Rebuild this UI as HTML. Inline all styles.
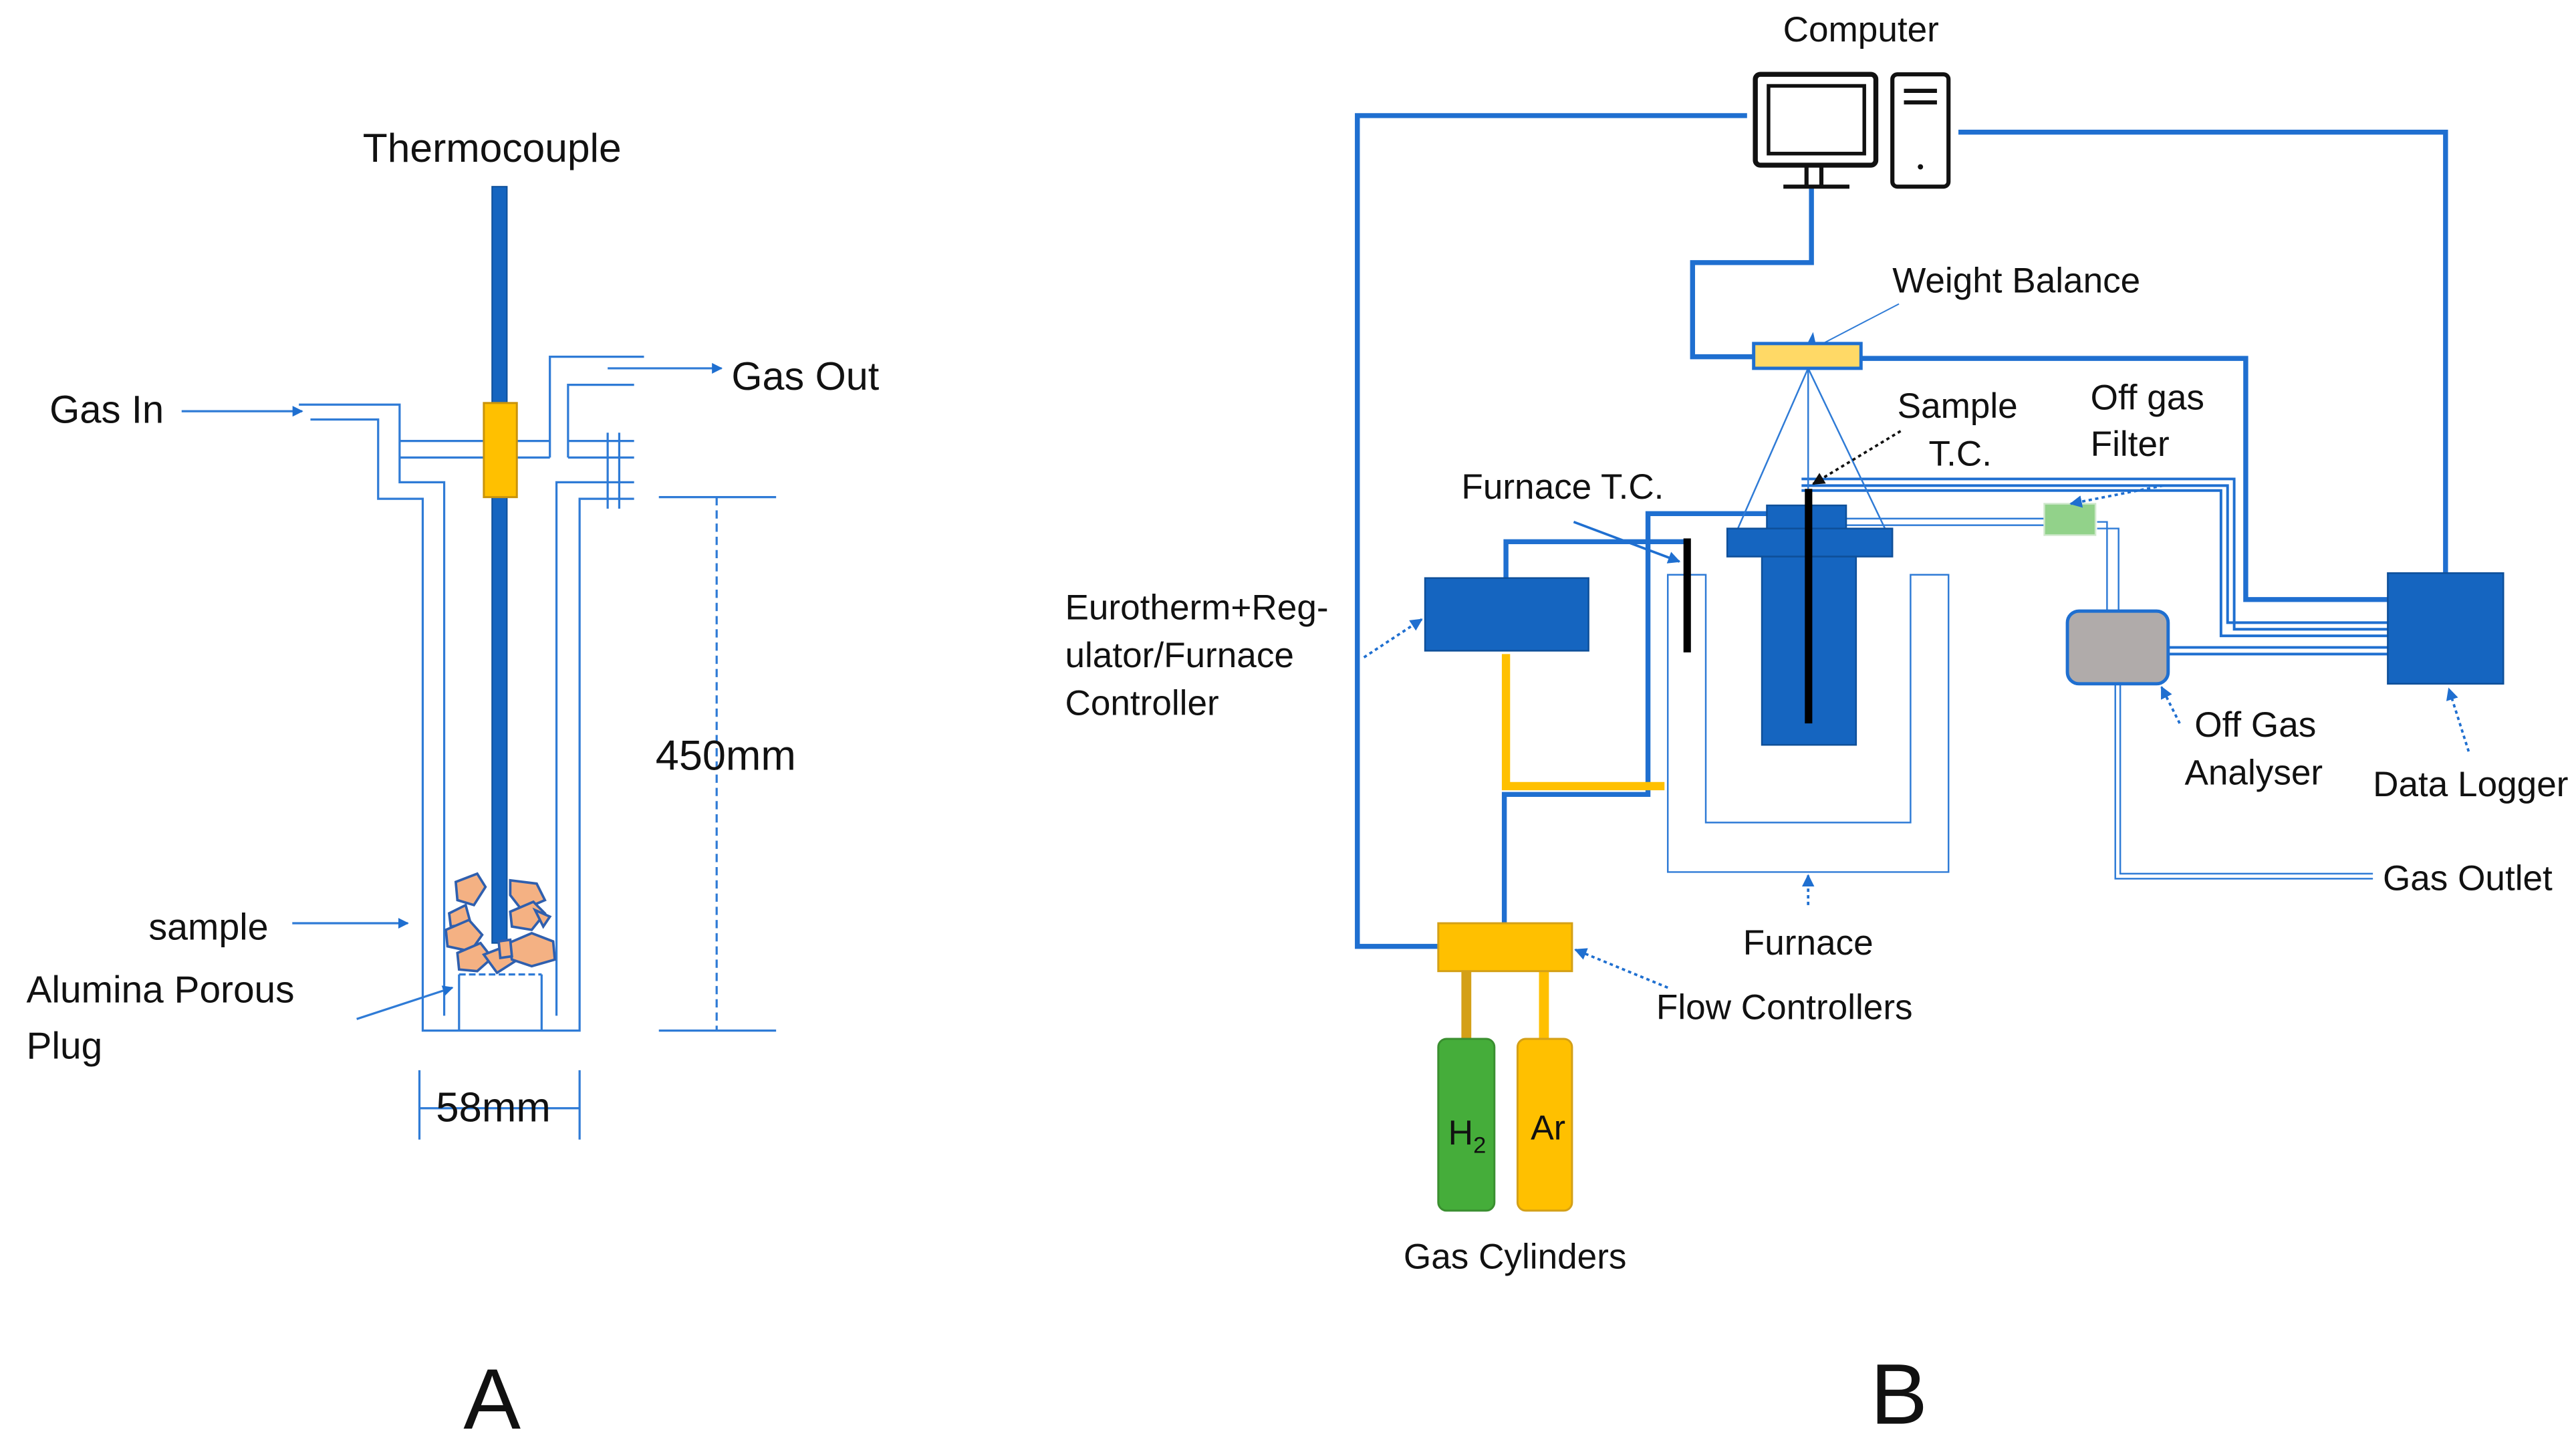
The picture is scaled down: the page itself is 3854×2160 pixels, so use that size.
<!DOCTYPE html>
<html><head><meta charset="utf-8"><style>
html,body{margin:0;padding:0;background:#fff;}
svg{display:block;}
text{font-family:"Liberation Sans",sans-serif;fill:#111;}
.c{font-family:"Liberation Sans",sans-serif;}
</style></head><body>
<svg width="3854" height="2160" viewBox="0 0 1560 874.3" preserveAspectRatio="none" xmlns="http://www.w3.org/2000/svg">
<defs>
<marker id="ah" viewBox="0 0 10 10" refX="9" refY="5" markerWidth="5" markerHeight="5" orient="auto"><path d="M0,0 L10,5 L0,10 z" fill="#1f6fd0"/></marker>
<marker id="ahk" viewBox="0 0 10 10" refX="9" refY="5" markerWidth="5" markerHeight="5" orient="auto"><path d="M0,0 L10,5 L0,10 z" fill="#111"/></marker>
</defs>
<rect width="1560" height="874.3" fill="#fff"/>

<!-- ===== Panel A ===== -->
<g fill="none" stroke="#2f7bd6" stroke-width="1.3">
<path d="M181,245 H242 V292 H269 V615"/>
<path d="M188,254 H229 V302 H256 V624 H351 V302 H384"/>
<path d="M337,615 V292 H384"/>
<path d="M242,267 H333 M242,277 H333 M344,267 H384 M344,277 H384"/>
<path d="M390,216 H333 V277"/>
<path d="M384,233 H344 V277"/>
<path d="M368,262 V308 M375,262 V308"/>
<path d="M399,301 H470 M399,624 H470"/>
<path d="M434,301 V624" stroke-dasharray="5,3"/>
<path d="M278,624 V590 M328,624 V590"/>
<path d="M278,590 H328" stroke-dasharray="4,2"/>
<path d="M254,648 V690 M351,648 V690 M254,671 H351"/>
<path d="M110,249 H183" marker-end="url(#ah)"/>
<path d="M368,223 H437" marker-end="url(#ah)"/>
<path d="M177,559 H247" marker-end="url(#ah)"/>
<path d="M216,617 L274,598" marker-end="url(#ah)"/>
</g>
<rect x="298" y="113" width="9" height="458" fill="#1565c0" stroke="#0e4f99" stroke-width="0.8"/>
<rect x="293" y="244" width="20" height="57" fill="#ffc000" stroke="#c9930a" stroke-width="1.2"/>
<g fill="#f4b183" stroke="#2f5fae" stroke-width="1.5">
<path d="M276,534 L289,529 L294,537 L287,548 L277,545 Z"/>
<path d="M272,553 L282,548 L285,559 L273,561 Z"/>
<path d="M270,563 L284,557 L292,566 L285,576 L271,573 Z"/>
<path d="M277,577 L291,571 L298,580 L289,588 L278,587 Z"/>
<path d="M293,578 L306,573 L312,582 L301,589 Z"/>
<path d="M309,533 L325,535 L330,545 L316,551 L309,542 Z"/>
<path d="M309,552 L323,546 L330,553 L322,563 L310,561 Z"/>
<path d="M324,551 L333,555 L329,561 Z"/>
<path d="M308,571 L322,565 L335,570 L336,581 L322,585 L310,581 Z"/>
<path d="M302,570 L309,569 L310,579 L303,580 Z"/>
</g>
<text x="298" y="98" font-size="24.5" text-anchor="middle">Thermocouple</text>
<text x="30" y="256" font-size="23.5">Gas In</text>
<text x="443" y="236" font-size="24">Gas Out</text>
<text x="397" y="466" font-size="25.5">450mm</text>
<text x="90" y="569" font-size="22.5">sample</text>
<text x="16" y="607" font-size="23">Alumina Porous</text>
<text x="16" y="641" font-size="23">Plug</text>
<text x="264" y="679" font-size="25">58mm</text>
<text x="298" y="865" font-size="52" text-anchor="middle">A</text>

<!-- ===== Panel B ===== -->
<g fill="none" stroke="#1f6fd0" stroke-width="3">
<path d="M1058,70 H822 V573 H871"/>
<path d="M1186,80 H1481 V347"/>
<path d="M1097,113 V159 H1025 V216 H1062"/>
<path d="M1127,217 H1360 V363 H1446"/>
<path d="M912,350 V328 H1020"/>
<path d="M1070,311 H998 V481 H911 V559"/>
</g>
<g fill="none" stroke="#1f6fd0" stroke-width="1.6">
<path d="M1091,290 H1353 V381 H1446"/>
<path d="M1091,294 H1349 V377 H1446"/>
<path d="M1091,297 H1345 V385 H1446"/>
<path d="M1313,392 H1446 M1313,396 H1446"/>
</g>
<g fill="none" stroke="#2f7bd6" stroke-width="1">
<path d="M1118,314 H1238 M1118,318 H1238"/>
<path d="M1270,316 H1276 V370 M1270,320 H1283 V370"/>
<path d="M1281,414 V532 H1437 M1284,414 V529 H1437"/>
<path d="M1010,348 L1033,348 L1033,498 L1157,498 L1157,348 L1180,348 L1180,528 L1010,528 Z"/>
<path d="M1095,223 L1052,321 M1095,223 L1142,321 M1095,223 V296"/>
<path d="M1150,184 L1100,210" stroke-width="0.8"/>
</g>
<path d="M1100,210 l-5,-3 l3,-6z" fill="#1f6fd0"/>
<!-- computer -->
<rect x="1063" y="45" width="73" height="55" rx="3" fill="#fff" stroke="#111" stroke-width="3"/>
<rect x="1071" y="52" width="58" height="41" fill="#fff" stroke="#111" stroke-width="2.2"/>
<path d="M1094,100 V113 M1103,100 V113 M1080,113 H1120" stroke="#111" stroke-width="2.5" fill="none"/>
<rect x="1146" y="45" width="34" height="68" rx="3" fill="#fff" stroke="#111" stroke-width="2.5"/>
<path d="M1153,55 H1173 M1153,62 H1173" stroke="#111" stroke-width="2.5"/>
<circle cx="1163" cy="101" r="1.6" fill="#111"/>
<!-- balance -->
<rect x="1062" y="208" width="65" height="15" fill="#ffd966" stroke="#1f6fd0" stroke-width="2"/>
<!-- crucible -->
<rect x="1070" y="306" width="48" height="15" fill="#1565c0" stroke="#0e4f99"/>
<rect x="1046" y="320" width="100" height="17" fill="#1565c0" stroke="#0e4f99"/>
<rect x="1067" y="337" width="57" height="114" fill="#1565c0" stroke="#0e4f99"/>
<rect x="1093" y="296" width="4.5" height="142" fill="#000"/>
<rect x="1019.5" y="326" width="4.5" height="69" fill="#000"/>
<!-- boxes -->
<rect x="863" y="350" width="99" height="44" fill="#1565c0" stroke="#0e4f99"/>
<rect x="1446" y="347" width="70" height="67" fill="#1565c0" stroke="#0e4f99"/>
<rect x="1252" y="370" width="61" height="44" rx="7" fill="#b0abaa" stroke="#1f6fd0" stroke-width="2"/>
<rect x="1238" y="305" width="31" height="19" fill="#92d28a" stroke="#cfe8cc"/>
<path d="M912,396 V476 H1008" fill="none" stroke="#ffc000" stroke-width="5"/>
<!-- flow controllers & cylinders -->
<rect x="885" y="588" width="6" height="41" fill="#d4a017"/>
<rect x="932" y="588" width="6" height="41" fill="#ffc000"/>
<rect x="871" y="559" width="81" height="29" fill="#ffc000" stroke="#d4a017" stroke-width="1.2"/>
<rect x="871" y="629" width="34" height="104" rx="5" fill="#45ad3a" stroke="#3a8f30" stroke-width="1.2"/>
<rect x="919" y="629" width="33" height="104" rx="5" fill="#ffc000" stroke="#d4a017" stroke-width="1.2"/>
<text class="c" x="877" y="693" font-size="21">H<tspan font-size="14" dy="5">2</tspan></text>
<text class="c" x="927" y="690" font-size="21">Ar</text>
<!-- arrows -->
<g fill="none" stroke-width="1.5">
<path d="M953,316 L1017,340" stroke="#1f6fd0" marker-end="url(#ah)"/>
<path d="M826,398 L861,375" stroke="#1f6fd0" stroke-dasharray="2,2" marker-end="url(#ah)"/>
<path d="M1151,261 L1098,293" stroke="#111" stroke-dasharray="2,2" marker-end="url(#ahk)"/>
<path d="M1310,294 L1254,305" stroke="#1f6fd0" stroke-dasharray="2,2" marker-end="url(#ah)"/>
<path d="M1320,438 L1309,416" stroke="#1f6fd0" stroke-dasharray="2,2" marker-end="url(#ah)"/>
<path d="M1495,455 L1483,417" stroke="#1f6fd0" stroke-dasharray="2,2" marker-end="url(#ah)"/>
<path d="M1095,548 V530" stroke="#1f6fd0" stroke-dasharray="2,2" marker-end="url(#ah)"/>
<path d="M1010,598 L954,575" stroke="#1f6fd0" stroke-dasharray="2,2" marker-end="url(#ah)"/>
</g>
<g class="c" font-size="21.5">
<text x="1127" y="25" text-anchor="middle">Computer</text>
<text x="1146" y="177">Weight Balance</text>
<text x="1149" y="253">Sample</text>
<text x="1168" y="282">T.C.</text>
<text x="1266" y="248">Off gas</text>
<text x="1266" y="276">Filter</text>
<text x="885" y="302">Furnace T.C.</text>
<text x="645" y="375">Eurotherm+Reg-</text>
<text x="645" y="404">ulator/Furnace</text>
<text x="645" y="433">Controller</text>
<text x="1329" y="446">Off Gas</text>
<text x="1323" y="475">Analyser</text>
<text x="1437" y="482">Data Logger</text>
<text x="1443" y="539">Gas Outlet</text>
<text x="1095" y="578" text-anchor="middle">Furnace</text>
<text x="1003" y="617">Flow Controllers</text>
<text x="850" y="768">Gas Cylinders</text>
</g>
<text x="1150" y="862" font-size="52" text-anchor="middle">B</text>
</svg>
</body></html>
